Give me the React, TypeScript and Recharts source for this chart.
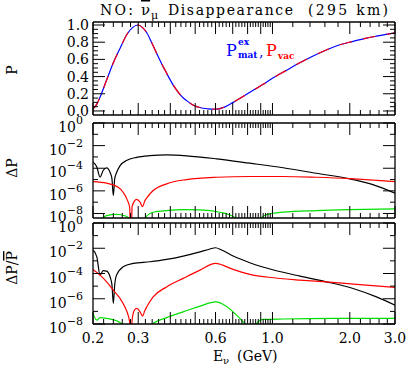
import { LineChart, Line, XAxis, YAxis } from 'recharts';

const W = 408;
const H = 367;
const FONT = "'DejaVu Serif', serif";

// x axis: E_nu (GeV), log scale
const xLabels = [0.2, 0.3, 0.6, 1.0, 2.0, 3.0];
const xMajor = [0.2, 0.3, 0.4, 0.5, 0.6, 0.7, 0.8, 0.9, 1.0, 2.0, 3.0];
const xMinor = [
  0.22, 0.24, 0.26, 0.28, 0.32, 0.34, 0.36, 0.38, 0.42, 0.44, 0.46, 0.48,
  0.52, 0.54, 0.56, 0.58, 0.62, 0.64, 0.66, 0.68, 0.72, 0.74, 0.76, 0.78,
  0.82, 0.84, 0.86, 0.88, 0.92, 0.94, 0.96, 0.98, 1.2, 1.4, 1.6, 1.8,
  2.2, 2.4, 2.6, 2.8,
];

// y ticks
const pMajor = [0, 0.2, 0.4, 0.6, 0.8, 1.0];
const pMinor = [0.05, 0.1, 0.15, 0.25, 0.3, 0.35, 0.45, 0.5, 0.55, 0.65, 0.7, 0.75, 0.85, 0.9, 0.95];
const logMajor = [1, 1e-2, 1e-4, 1e-6, 1e-8];
const logMinor = [1e-1, 1e-3, 1e-5, 1e-7];

// top panel: P (matter exact and vacuum lie on top of each other)
const topE = [0.2, 0.207, 0.213, 0.226, 0.24, 0.255, 0.271, 0.285, 0.3, 0.312, 0.324, 0.338, 0.354, 0.37, 0.387, 0.405, 0.424, 0.443, 0.463, 0.49, 0.521, 0.56, 0.6, 0.65, 0.703, 0.77, 0.841, 0.92, 1.0, 1.13, 1.277, 1.44, 1.62, 1.83, 2.06, 2.3, 2.54, 2.77, 3.0];
const topP = [0.025, 0.08, 0.16, 0.36, 0.56, 0.73, 0.89, 0.97, 1.0, 0.97, 0.91, 0.8, 0.67, 0.55, 0.44, 0.33, 0.24, 0.17, 0.12, 0.07, 0.04, 0.025, 0.02, 0.045, 0.1, 0.17, 0.24, 0.31, 0.38, 0.47, 0.56, 0.64, 0.71, 0.77, 0.81, 0.845, 0.87, 0.89, 0.91];

// middle panel: Delta P
const midBlackE = [0.2, 0.207, 0.213, 0.219, 0.226, 0.233, 0.237, 0.24, 0.243, 0.247, 0.255, 0.27, 0.296, 0.333, 0.387, 0.463, 0.606, 0.816, 1.1, 1.48, 2.0, 2.46, 3.0];
const midBlackV = [3.4e-4, 1.3e-4, 1.6e-5, 6.3e-5, 1.1e-4, 4.5e-5, 1.2e-5, 4e-7, 1.2e-5, 4e-5, 1.7e-4, 4.8e-4, 9.3e-4, 1.3e-3, 1.5e-3, 1.26e-3, 6.8e-4, 2.8e-4, 1.1e-4, 3.6e-5, 1.15e-5, 3.6e-6, 6.3e-7];
const midRedE = [0.2, 0.226, 0.25, 0.262, 0.272, 0.278, 0.281, 0.284, 0.29, 0.296, 0.305, 0.312, 0.318, 0.324, 0.343, 0.387, 0.463, 0.606, 0.816, 1.1, 1.48, 2.0, 3.0];
const midRedV = [6.6e-6, 4.8e-6, 2.2e-6, 7.6e-7, 1.6e-7, 3.2e-8, 1e-12, 4e-8, 1.26e-7, 1.8e-7, 1e-7, 4e-8, 1.26e-7, 2.4e-7, 1.07e-6, 4.2e-6, 1e-5, 1.6e-5, 1.86e-5, 1.86e-5, 1.6e-5, 1.23e-5, 6.6e-6];
const midGreenE = [0.2, 0.212, 0.216, 0.226, 0.247, 0.266, 0.276, 0.281, 0.31, 0.318, 0.343, 0.387, 0.449, 0.522, 0.624, 0.703, 0.72, 0.751, 0.86, 0.9, 0.948, 1.1, 1.48, 2.0, 3.0];
const midGreenV = [1e-12, 1e-12, 3.5e-9, 6.5e-9, 8.5e-9, 6.3e-9, 4e-9, 1e-12, 1e-12, 3.5e-9, 1.3e-8, 1.8e-8, 2.2e-8, 2.1e-8, 1.3e-8, 5.4e-9, 3.2e-9, 1e-12, 1e-12, 3.5e-9, 7.9e-9, 1.3e-8, 1.8e-8, 2.2e-8, 2.6e-8];

// bottom panel: Delta P / P-bar
const botBlackE = [0.2, 0.207, 0.213, 0.219, 0.226, 0.233, 0.237, 0.24, 0.243, 0.247, 0.262, 0.287, 0.333, 0.387, 0.449, 0.522, 0.571, 0.6, 0.634, 0.703, 0.816, 1.01, 1.28, 1.62, 2.06, 2.54, 3.0];
const botBlackV = [7.2e-3, 2.1e-3, 7.4e-5, 1.66e-4, 1.55e-4, 5.5e-5, 1.3e-5, 4.3e-7, 1.3e-5, 7.4e-5, 3.4e-4, 6.3e-4, 8.5e-4, 1.3e-3, 2.4e-3, 5.2e-3, 8.7e-3, 1.1e-2, 7.2e-3, 2.4e-3, 7.1e-4, 1.9e-4, 6.2e-5, 2.2e-5, 6.5e-6, 1.4e-6, 3.1e-7];
const botRedE = [0.2, 0.213, 0.226, 0.24, 0.255, 0.266, 0.274, 0.278, 0.281, 0.284, 0.29, 0.296, 0.305, 0.312, 0.318, 0.324, 0.343, 0.387, 0.449, 0.522, 0.6, 0.703, 0.84, 1.01, 1.28, 1.72, 2.32, 3.0];
const botRedV = [2.1e-4, 7.4e-5, 2.2e-5, 4.8e-6, 1.05e-6, 2.3e-7, 5e-8, 1.26e-8, 1e-12, 2e-8, 1.26e-7, 1.7e-7, 9.1e-8, 4.2e-8, 1.1e-7, 2.3e-7, 1.4e-6, 8.7e-6, 4.1e-5, 1.86e-4, 6.3e-4, 2.1e-4, 7.4e-5, 4.6e-5, 3e-5, 1.95e-5, 1.2e-5, 7.9e-6];
const botGreenE = [0.2, 0.207, 0.213, 0.226, 0.247, 0.262, 0.27, 0.32, 0.338, 0.387, 0.449, 0.522, 0.6, 0.66, 0.725, 0.765, 0.785, 0.81, 0.84, 0.865, 0.92, 1.1, 1.72, 3.0];
const botGreenV = [6.8e-8, 2e-8, 3.2e-8, 2.8e-8, 1.8e-8, 7.9e-9, 1e-12, 1e-12, 8.9e-9, 3.2e-8, 9.1e-8, 2.6e-7, 5.6e-7, 2.6e-7, 5e-8, 1.6e-8, 8.9e-9, 1e-12, 1e-12, 1e-8, 2.3e-8, 2.5e-8, 2.75e-8, 2.75e-8];

const near = (list: number[], v: number) => list.some((m) => Math.abs(m - v) < 1e-12 + Math.abs(m) * 1e-6);
const MAJ = 12;
const MIN = 5;

const xTick = (side: 'top' | 'bottom', labels: boolean) => (props: any) => {
  const { x, y, payload } = props;
  const v = payload.value;
  const len = near(xMajor, v) ? MAJ : MIN;
  const dir = side === 'bottom' ? -1 : 1;
  return (
    <g>
      <line x1={x} y1={y} x2={x} y2={y + dir * len} stroke="#000" strokeWidth={1} />
      {labels && near(xLabels, v) && (
        <text x={x} y={y + 19} textAnchor="middle" fontFamily={FONT} fontSize={14} fill="#000">
          {v.toFixed(1)}
        </text>
      )}
    </g>
  );
};

const yTick = (side: 'left' | 'right', major: number[], log: boolean) => (props: any) => {
  const { x, y, payload } = props;
  const v = payload.value;
  const isMaj = near(major, v);
  const len = isMaj ? MAJ : MIN;
  const dir = side === 'left' ? 1 : -1;
  let label = null;
  if (side === 'left' && isMaj) {
    if (log) {
      const exp = Math.round(Math.log10(v));
      label = (
        <text x={x - 10} y={y + 9} textAnchor="end" fontFamily={FONT} fontSize={14} fill="#000">
          10
          <tspan dy={-8} fontSize={11}>{exp === 0 ? '0' : '\u2212' + Math.abs(exp)}</tspan>
        </text>
      );
    } else {
      label = (
        <text x={x - 4} y={y + 5} textAnchor="end" fontFamily={FONT} fontSize={14} fill="#000">
          {v.toFixed(1)}
        </text>
      );
    }
  }
  return (
    <g>
      <line x1={x} y1={y} x2={x + dir * len} y2={y} stroke="#000" strokeWidth={1} />
      {label}
    </g>
  );
};

type Series = { e: number[]; v: number[]; color: string; dash?: string };

function Panel(props: {
  top: number;
  bottom: number;
  domain: [number, number];
  log: boolean;
  major: number[];
  minor: number[];
  series: Series[];
  xLabels: boolean;
}) {
  const { top, bottom, domain, log, major, minor, series } = props;
  const xTicks = [...xMajor, ...xMinor].sort((a, b) => a - b);
  const yTicks = [...major, ...minor].sort((a, b) => a - b);
  const axisLine = { stroke: '#000', strokeWidth: 1.3 };
  return (
    <div style={{ position: 'absolute', left: 0, top: 0 }}>
      <LineChart width={W} height={H} margin={{ top: top - 1, bottom: H - bottom - 1, left: 92, right: W - 395 - 1 }}>
        <XAxis xAxisId="b" dataKey="e" type="number" scale="log" domain={[0.2, 3]} allowDataOverflow
          ticks={xTicks} interval={0} height={1} tickSize={0} tickMargin={0} tickLine={false}
          axisLine={axisLine} tick={xTick('bottom', props.xLabels)} />
        <XAxis xAxisId="t" orientation="top" dataKey="e" type="number" scale="log" domain={[0.2, 3]} allowDataOverflow
          ticks={xTicks} interval={0} height={1} tickSize={0} tickMargin={0} tickLine={false}
          axisLine={axisLine} tick={xTick('top', false)} />
        <YAxis yAxisId="l" type="number" scale={log ? 'log' : 'linear'} domain={domain} allowDataOverflow
          ticks={yTicks} interval={0} width={1} tickSize={0} tickMargin={0} tickLine={false}
          axisLine={axisLine} tick={yTick('left', major, log)} />
        <YAxis yAxisId="r" orientation="right" type="number" scale={log ? 'log' : 'linear'} domain={domain} allowDataOverflow
          ticks={yTicks} interval={0} width={1} tickSize={0} tickMargin={0} tickLine={false}
          axisLine={axisLine} tick={yTick('right', major, log)} />
        {series.map((s, i) => (
          <Line key={i} xAxisId="b" yAxisId="l" data={s.e.map((e, j) => ({ e, v: s.v[j] }))} dataKey="v"
            type="monotone" stroke={s.color} strokeWidth={1.2} strokeDasharray={s.dash} dot={false}
            isAnimationActive={false} />
        ))}
        {/* hidden series keeps the top and right axes bound to data */}
        <Line xAxisId="t" yAxisId="r" data={series[0].e.map((e, j) => ({ e, v: series[0].v[j] }))} dataKey="v"
          stroke="none" dot={false} activeDot={false} isAnimationActive={false} />
      </LineChart>
    </div>
  );
}

const RED = '#ff0000';
const BLUE = '#0000ff';
const GREEN = '#00e000';
const BLACK = '#000000';

export default function App() {
  const txt = { fontFamily: FONT, fill: '#000' };
  return (
    <div style={{ position: 'absolute', left: 0, top: 0, width: W, height: H, background: '#fff' }}>
      <Panel top={22} bottom={115} domain={[-0.047, 1.035]} log={false} major={pMajor} minor={pMinor} xLabels={false}
        series={[
          { e: topE, v: topP, color: BLUE },
          { e: topE, v: topP, color: RED, dash: '12 12' },
        ]} />
      <Panel top={123} bottom={218} domain={[4e-9, 1]} log major={logMajor} minor={logMinor} xLabels={false}
        series={[
          { e: midBlackE, v: midBlackV, color: BLACK },
          { e: midRedE, v: midRedV, color: RED },
          { e: midGreenE, v: midGreenV, color: GREEN },
        ]} />
      <Panel top={223} bottom={324} domain={[1e-8, 1]} log major={logMajor} minor={logMinor} xLabels
        series={[
          { e: botBlackE, v: botBlackV, color: BLACK },
          { e: botRedE, v: botRedV, color: RED },
          { e: botGreenE, v: botGreenV, color: GREEN },
        ]} />
      <svg width={W} height={H} style={{ position: 'absolute', left: 0, top: 0, pointerEvents: 'none' }}>
        {/* title */}
        <text x={100} y={15} fontSize={14} textLength={33} lengthAdjust="spacing" {...txt}>NO:</text>
        <text x={141} y={15} fontSize={15} style={{ textDecoration: 'overline' }} {...txt}>ν</text>
        <text x={151} y={19} fontSize={11} {...txt}>μ</text>
        <text x={168} y={15} fontSize={14} textLength={125} lengthAdjust="spacing" {...txt}>Disappearance</text>
        <text x={308} y={15} fontSize={14} textLength={80} lengthAdjust="spacing" {...txt}>(295 km)</text>
        {/* legend */}
        <text x={226} y={56} fontSize={16} fontFamily={FONT} fill={BLUE}>P</text>
        <text x={238} y={45} fontSize={9} fontWeight="bold" fontFamily={FONT} fill={BLUE}>ex</text>
        <text x={238} y={58} fontSize={9} fontWeight="bold" fontFamily={FONT} fill={BLUE}>mat</text>
        <text x={259} y={57} fontSize={14} fontFamily={FONT} fill={BLUE}>,</text>
        <text x={266} y={56} fontSize={16} fontFamily={FONT} fill={RED}>P</text>
        <text x={278} y={59} fontSize={9} fontWeight="bold" fontFamily={FONT} fill={RED}>vac</text>
        {/* y titles */}
        <text x={0} y={0} fontSize={14} textAnchor="middle" transform="translate(17,70) rotate(-90)" {...txt}>P</text>
        <text x={0} y={0} fontSize={14} textAnchor="middle" transform="translate(17,168) rotate(-90)" {...txt}>ΔP</text>
        <text x={0} y={0} fontSize={14} textAnchor="middle" transform="translate(17,268) rotate(-90)" {...txt}>
          ΔP/<tspan style={{ textDecoration: 'overline' }}>P</tspan>
        </text>
        {/* x title */}
        <text x={213} y={361} fontSize={14} {...txt}>E</text>
        <text x={223} y={364} fontSize={10} {...txt}>ν</text>
        <text x={237} y={361} fontSize={14} {...txt}>(GeV)</text>
      </svg>
    </div>
  );
}
